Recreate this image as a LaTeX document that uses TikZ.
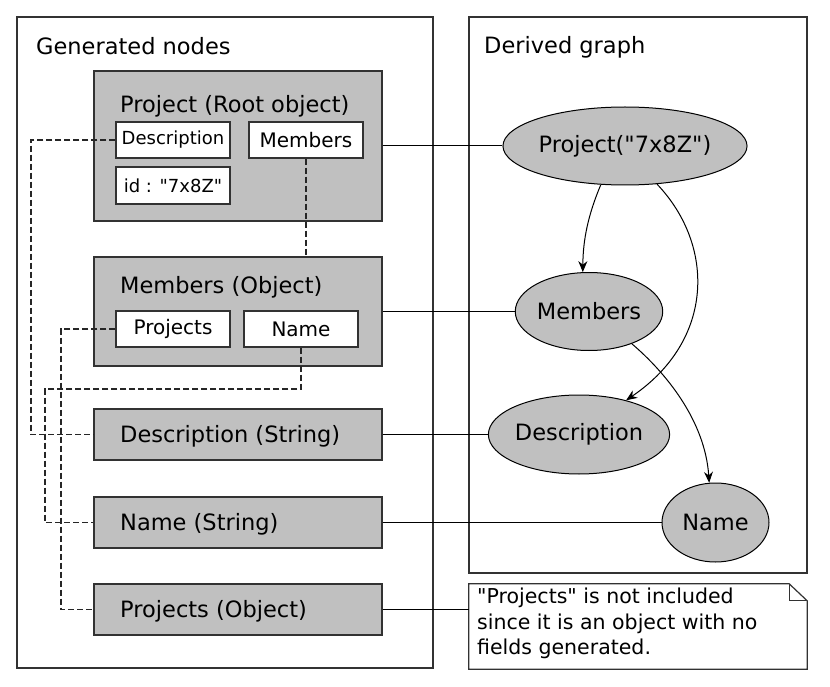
\documentclass[tikz,border=0pt]{standalone}
\usepackage{fontspec}
\setmainfont{DejaVu Sans}[Ligatures=TeXOff]
\usetikzlibrary{arrows.meta,shapes.geometric}
\definecolor{boxgray}{RGB}{192,192,192}
\definecolor{linegray}{RGB}{50,50,50}
\tikzset{
  frame/.style={draw=linegray,line width=1.3pt},
  bigbox/.style={draw=linegray,line width=1.2pt,fill=boxgray,minimum width=288pt,inner sep=0pt},
  subbox/.style={draw=linegray,line width=1.1pt,fill=white,minimum width=114pt,minimum height=36pt,inner sep=0pt,font=\fontsize{20}{24}\selectfont},
  smallsub/.style={subbox,font=\fontsize{18}{22}\selectfont},
  boxtitle/.style={anchor=base west,inner sep=0pt,font=\fontsize{22.5}{27}\selectfont},
  ell/.style={ellipse,draw=black,line width=1pt,fill=boxgray,inner sep=0pt,font=\fontsize{22.5}{27}\selectfont},
  link/.style={draw=black,line width=1pt},
  dashlink/.style={draw=black!85,line width=1.1pt,dash pattern=on 6pt off 3pt},
  arr/.style={draw=black,line width=1pt,-{Stealth[length=11pt,width=9pt]}},
}
\begin{document}
\begin{tikzpicture}[x=1pt,y=-1pt]
\useasboundingbox (0,0) rectangle (830,687);
% outer frames
\node[frame,minimum width=416pt,minimum height=651pt,inner sep=0pt] (genframe) at (225,342.5) {};
\node[frame,minimum width=338pt,minimum height=556pt,inner sep=0pt] (derframe) at (638,295) {};
\node[boxtitle] (gentitle) at (36,55) {Generated nodes};
\node[boxtitle] (dertitle) at (484,54) {Derived graph};

% generated node boxes
\node[bigbox,minimum height=150pt] (pbox) at (238,146) {};
\node[bigbox,minimum height=109pt] (mbox) at (238,311.5) {};
\node[bigbox,minimum height=51pt] (dstr) at (238,434.5) {};
\node[bigbox,minimum height=51pt] (nstr) at (238,522.5) {};
\node[bigbox,minimum height=51pt] (pobj) at (238,609.5) {};

\node[boxtitle] (ptitle) at (120,113) {Project (Root object)};
\node[boxtitle] (mtitle) at (120,293) {Members (Object)};
\node[boxtitle] (dtitle) at (120,442) {Description (String)};
\node[boxtitle] (ntitle) at (120,530) {Name (String)};
\node[boxtitle] (otitle) at (120,617) {Projects (Object)};

% sub boxes
\node[smallsub] (dsub) at (173,140) {Description};
\node[subbox] (msub) at (306,140) {Members};
\node[smallsub,minimum height=37pt] (idsub) at (173,185.5) {id : "7x8Z"};
\node[subbox] (psub) at (173,329) {Projects};
\node[subbox] (nsub) at (301,329) {Name};

% derived graph ellipses
\node[ell,minimum width=194pt,minimum height=78pt] (pell) at (625,146) {Project("7x8Z")};
\node[ell,minimum width=122pt,minimum height=78pt] (mell) at (589,311.5) {Members};
\node[ell,minimum width=144pt,minimum height=79pt] (dell) at (579,434.5) {Description};
\node[ell,minimum width=107pt,minimum height=79pt] (nell) at (715.5,522.5) {Name};

% note
\node[minimum width=338pt,minimum height=85pt,inner sep=0pt] (note) at (638,626.5) {};
\draw[frame,line width=1.2pt] (note.north west) -- ([xshift=-18pt]note.north east) -- ([yshift=-17pt]note.north east) -- (note.south east) -- (note.south west) -- cycle;
\draw[frame,line width=1.2pt] ([xshift=-18pt]note.north east) -- ([xshift=-18pt,yshift=-17pt]note.north east) -- ([yshift=-17pt]note.north east);
\node[anchor=north west,align=left,inner sep=0pt,font=\fontsize{20.5}{25.5}\selectfont] (notetxt) at (477,588) {"Projects" is not included\\since it is an object with no\\fields generated.};

% solid links
\draw[link] (pbox.east) -- (pell.west);
\draw[link] (mbox.east) -- (mell.west);
\draw[link] (dstr.east) -- (dell.west);
\draw[link] (nstr.east) -- (nell.west);
\draw[link] (pobj.east) -- (pobj.east -| note.west);

% dashed links
\coordinate (k1) at (31,0);
\coordinate (k2) at (61,0);
\coordinate (k3) at (45,389);
\draw[dashlink] (dsub.west) -- (dsub.west -| k1) |- (dstr.west);
\draw[dashlink] (msub.south) -- (mbox.north -| msub.south);
\draw[dashlink] (psub.west) -- (psub.west -| k2) |- (pobj.west);
\draw[dashlink] (nsub.south) |- (k3) |- (nstr.west);

% arrows
\draw[arr] (pell.-122) .. controls (588,215) and (583,240) .. (mell.99);
\draw[arr] (pell.-50) .. controls (715,245) and (715,340) .. (dell.36);
\draw[arr] (mell.-37) .. controls (665,372) and (705,420) .. (nell.99);
\end{tikzpicture}
\end{document}
